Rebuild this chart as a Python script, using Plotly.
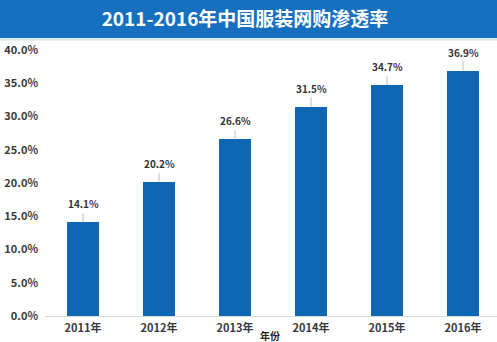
import plotly.graph_objects as go

years = ["2011年", "2012年", "2013年", "2014年", "2015年", "2016年"]
rates = [14.1, 20.2, 26.6, 31.5, 34.7, 36.9]
y_ticks = [0, 5, 10, 15, 20, 25, 30, 35, 40]
y_tick_text = ["0.0%", "5.0%", "10.0%", "15.0%", "20.0%", "25.0%", "30.0%", "35.0%", "40.0%"]
title_text = "2011-2016年中国服装网购渗透率"
x_title = "年份"

FONT = "Noto Sans CJK SC"
W, H = 497, 342
L, R, T, B = 45, 0, 50, 26
pw = W - L - R
ph = H - T - B

fig = go.Figure()
fig.add_trace(go.Bar(
    x=list(range(len(years))), y=rates,
    marker=dict(color="#0f66b3", line=dict(width=0)),
    width=0.41,
    hoverinfo="skip",
))

annotations = []
for i, v in enumerate(rates):
    annotations.append(dict(
        x=i, y=v, xref="x", yref="y",
        text=f"<b>{v:.1f}%</b>", showarrow=True, arrowhead=0, arrowwidth=1,
        arrowcolor="#c0c0c0", ax=0, ay=-9, standoff=0,
        font=dict(family=FONT, size=10, color="#333333"),
        yanchor="bottom",
    ))

annotations.append(dict(
    x=(270 - L) / pw, y=-(335 - (T + ph)) / ph, xref="paper", yref="paper",
    text=f"<b>{x_title}</b>", showarrow=False,
    font=dict(family=FONT, size=10, color="#222222"),
    xanchor="center", yanchor="middle",
))

shapes = [dict(
    type="rect", xref="paper", yref="paper",
    x0=-L / pw - 0.01, x1=1.01,
    y0=1 + (T - 38) / ph, y1=1 + T / ph + 0.01,
    fillcolor="#1670bf", line=dict(width=0), layer="below",
), dict(
    type="line", xref="paper", yref="paper",
    x0=-L / pw - 0.01, x1=1.01,
    y0=1 + (T - 39.5) / ph, y1=1 + (T - 39.5) / ph,
    line=dict(color="#cfe6f5", width=2),
)]

fig.update_layout(
    width=W, height=H,
    margin=dict(l=L, r=R, t=T, b=B),
    paper_bgcolor="white", plot_bgcolor="white",
    showlegend=False,
    title=dict(
        text=f"<b>{title_text}</b>", x=245 / W, xref="container", xanchor="center",
        y=1 - 19 / H, yref="container", yanchor="middle",
        font=dict(family=FONT, size=19, color="white"),
    ),
    xaxis=dict(
        tickmode="array", tickvals=list(range(len(years))),
        ticktext=[f"<b>{y}</b>" for y in years],
        range=[-0.5, -0.5 + pw / 76.0],
        showgrid=False, zeroline=False,
        showline=True, linecolor="#d9d9d9", linewidth=1,
        ticks="", tickfont=dict(family=FONT, size=11, color="#3a3a3a"),
        ticklabelstandoff=2,
    ),
    yaxis=dict(
        range=[0, 40], tickmode="array", tickvals=y_ticks,
        ticktext=[f"<b>{t}</b>" for t in y_tick_text],
        showgrid=False, zeroline=False, showline=False, ticks="",
        tickfont=dict(family=FONT, size=11, color="#3a3a3a"),
        ticklabelstandoff=6,
    ),
    annotations=annotations,
    shapes=shapes,
    bargap=0,
)

fig.write_html("out.html")
